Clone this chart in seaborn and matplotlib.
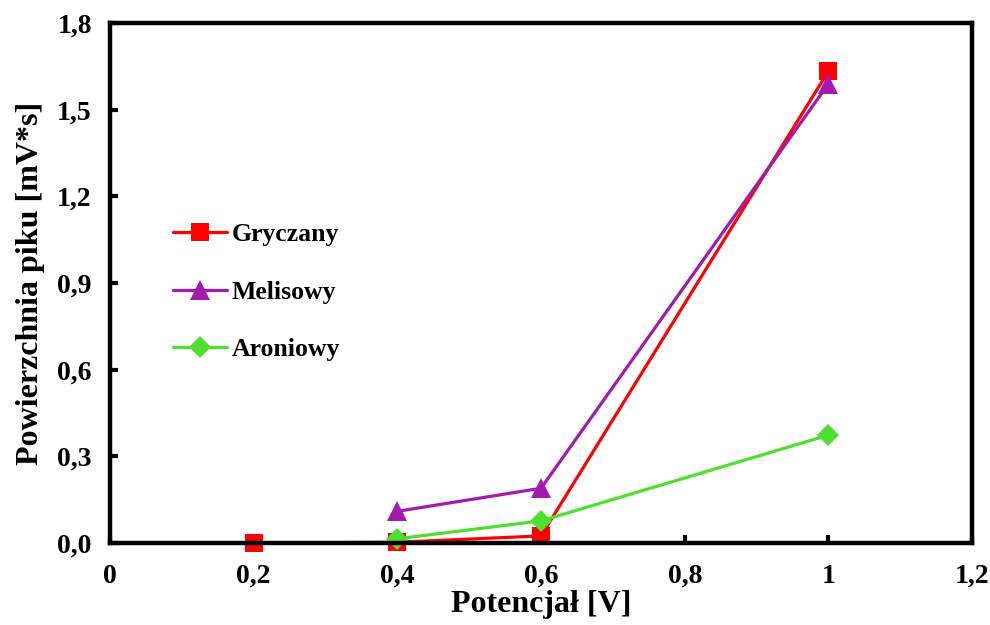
import matplotlib
matplotlib.use("Agg")
import matplotlib.pyplot as plt
import seaborn as sns
import pandas as pd
from matplotlib.ticker import FixedLocator, FuncFormatter

# Peak area versus applied potential for three honey types
potential_gryczany = [0.2, 0.4, 0.6, 1.0]
area_gryczany = [0.0, 0.003, 0.025, 1.634]

potential_melisowy = [0.4, 0.6, 1.0]
area_melisowy = [0.11, 0.19, 1.59]

potential_aroniowy = [0.4, 0.6, 1.0]
area_aroniowy = [0.015, 0.077, 0.374]

series_names = ["Gryczany", "Melisowy", "Aroniowy"]
x_ticks = [0, 0.2, 0.4, 0.6, 0.8, 1.0, 1.2]
y_ticks = [0.0, 0.3, 0.6, 0.9, 1.2, 1.5, 1.8]

sns.set_theme(style="white")
plt.rcParams["font.family"] = ["Liberation Serif", "DejaVu Serif"]
plt.rcParams["font.weight"] = "bold"
plt.rcParams["text.color"] = "black"
plt.rcParams["axes.labelcolor"] = "black"
plt.rcParams["xtick.color"] = "black"
plt.rcParams["ytick.color"] = "black"

fig = plt.figure(figsize=(9.9, 6.25), dpi=100)
ax = fig.add_axes([0.111, 0.131, 0.871, 0.832])

styles = {
    "Gryczany": dict(color="#FF0000", marker="s", markersize=12.5),
    "Melisowy": dict(color="#A21AB0", marker="^", markersize=14),
    "Aroniowy": dict(color="#4EE02E", marker="D", markersize=11),
}
data = {
    "Gryczany": (potential_gryczany, area_gryczany),
    "Melisowy": (potential_melisowy, area_melisowy),
    "Aroniowy": (potential_aroniowy, area_aroniowy),
}

for name in series_names:
    xs, ys = data[name]
    df = pd.DataFrame({"x": xs, "y": ys})
    st = styles[name]
    sns.lineplot(data=df, x="x", y="y", ax=ax, color=st["color"],
                 marker=st["marker"], markersize=st["markersize"],
                 markeredgewidth=0, linewidth=2.3, label=name,
                 clip_on=False)

ax.set_xlim(0, 1.2)
ax.set_ylim(0, 1.8)
ax.xaxis.set_major_locator(FixedLocator(x_ticks))
ax.yaxis.set_major_locator(FixedLocator(y_ticks))


def fmt_x(v, pos):
    s = f"{v:.1f}".rstrip("0").rstrip(".")
    return s.replace(".", ",")


ax.xaxis.set_major_formatter(FuncFormatter(fmt_x))
ax.yaxis.set_major_formatter(FuncFormatter(lambda v, p: f"{v:.1f}".replace(".", ",")))

for sp in ax.spines.values():
    sp.set_linewidth(3.2)
    sp.set_color("black")

ax.tick_params(axis="both", direction="in", length=6, width=3, color="black",
               labelsize=20, labelcolor="black",
               bottom=True, left=True, top=False, right=False)
ax.tick_params(axis="x", pad=15)
ax.tick_params(axis="y", pad=13)
for lab in ax.get_xticklabels() + ax.get_yticklabels():
    lab.set_fontweight("bold")

ax.set_xlabel("Potencjał [V]", fontsize=23, fontweight="bold", labelpad=1)
ax.set_ylabel("Powierzchnia piku [mV*s]", fontsize=23, fontweight="bold", labelpad=9)

leg = ax.legend(loc="upper left", bbox_to_anchor=(0.046, 0.66), frameon=False,
                handlelength=2.1, labelspacing=1.35, handletextpad=0.2,
                prop={"weight": "bold", "size": 18.5})

fig.savefig("out.png", dpi=100, facecolor="white")
